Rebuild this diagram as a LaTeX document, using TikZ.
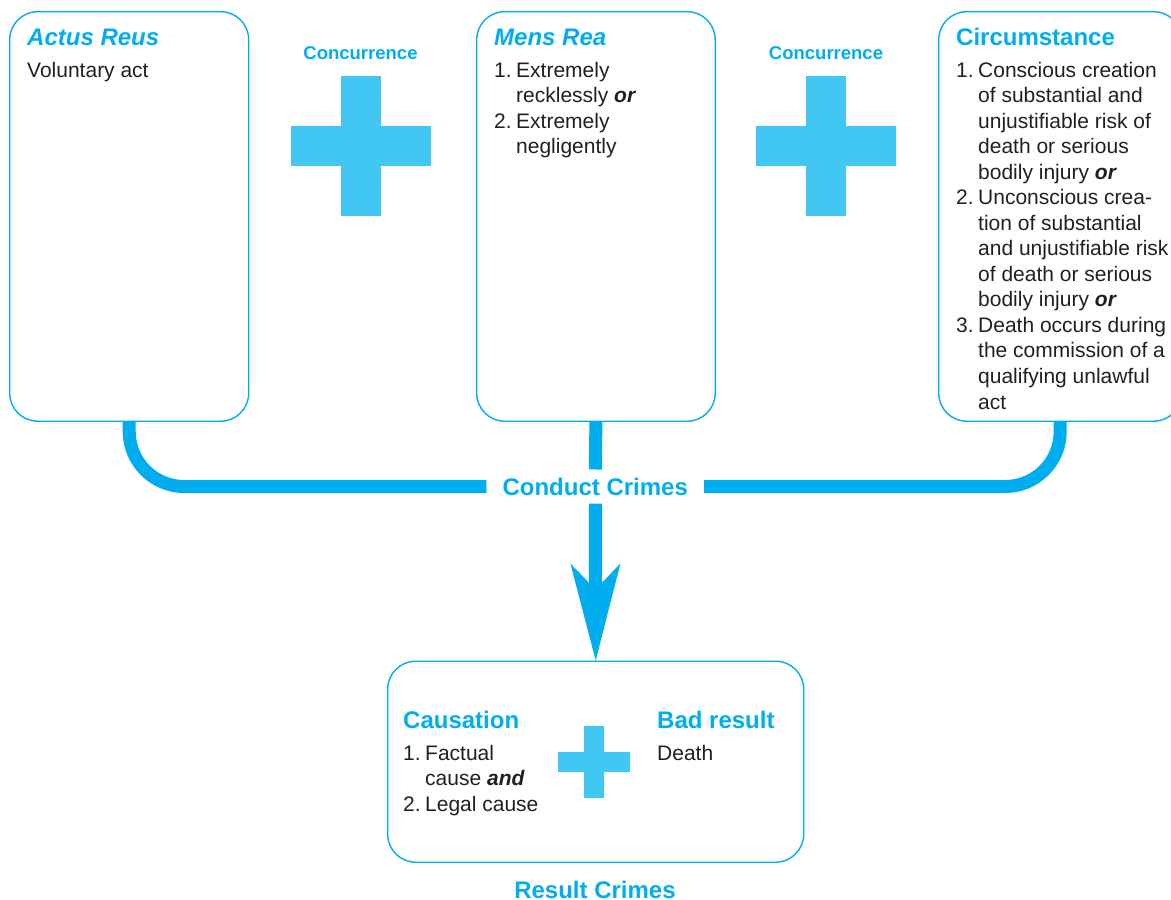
\documentclass[tikz,border=0pt]{standalone}
\usepackage{fontspec}
\setmainfont{Liberation Sans}
\usetikzlibrary{arrows.meta}

\definecolor{cyanline}{RGB}{0,174,239}
\definecolor{plusfill}{RGB}{66,199,242}
\definecolor{bodytext}{RGB}{35,31,32}

% numbered list helpers: hanging indent for wrapped lines
\newcommand\itemnum[1]{\makebox[22pt][l]{#1}}
\newcommand\indentline{\hspace*{22pt}}
\newcommand\bi[1]{\textbf{\textit{#1}}}

% body line pitch
\def\lineskipbody{25.54}

\tikzset{
  panel/.style={draw=cyanline, line width=1.4pt, rounded corners=28pt,
    anchor=north west, inner sep=0pt},
  heading/.style={anchor=base west, inner sep=0pt, text=cyanline,
    font=\fontsize{24}{28}\selectfont\bfseries},
  body/.style={anchor=base west, inner sep=0pt, text=bodytext, align=left,
    font=\fontsize{21}{25.54}\selectfont},
  caption/.style={anchor=base, inner sep=0pt, text=cyanline,
    font=\fontsize{24}{28}\selectfont\bfseries},
  joiner/.style={anchor=base, inner sep=0pt, text=cyanline,
    font=\fontsize{18.5}{22}\selectfont\bfseries},
  link/.style={draw=cyanline, line width=13pt},
  pics/plusmark/.style 2 args={code={
    \fill[plusfill] (-#1,-#2) rectangle (#1,#2);
    \fill[plusfill] (-#2,-#1) rectangle (#2,#1);
  }}
}

\begin{document}
\begin{tikzpicture}[x=1pt, y=-1pt]
  \useasboundingbox (0,0) rectangle (1171,900);
  \clip (0,0) rectangle (1171,900);

  % three element panels
  \node[panel, minimum width=239pt, minimum height=409.5pt] (ar) at (9,11) {};
  \node[panel, minimum width=238.5pt, minimum height=409.5pt] (mr) at (476,11) {};
  \node[panel, minimum width=243pt, minimum height=409.5pt] (ci) at (938,11) {};

  % actus reus
  \node[heading, font=\fontsize{24}{28}\selectfont\bfseries\itshape] (arT) at (27,45) {Actus Reus};
  \node[body] (arB) at (27,77) {Voluntary act};

  % mens rea (multi-line nodes sit on the baseline of their last line)
  \node[heading, font=\fontsize{24}{28}\selectfont\bfseries\itshape] (mrT) at (494,45) {Mens Rea};
  \node[body] (mrB) at (494,{77+3*\lineskipbody}) {\itemnum{1.}Extremely\\
    \indentline recklessly \bi{or}\\
    \itemnum{2.}Extremely\\
    \indentline negligently};

  % circumstance
  \node[heading] (ciT) at (956,45) {Circumstance};
  \node[body] (ciB) at (956,{77+13*\lineskipbody}) {\itemnum{1.}Conscious creation\\
    \indentline of substantial and\\
    \indentline unjustifiable risk of\\
    \indentline death or serious\\
    \indentline bodily injury \bi{or}\\
    \itemnum{2.}Unconscious crea-\\
    \indentline tion of substantial\\
    \indentline and unjustifiable risk\\
    \indentline of death or serious\\
    \indentline bodily injury \bi{or}\\
    \itemnum{3.}Death occurs during\\
    \indentline the commission of a\\
    \indentline qualifying unlawful\\
    \indentline act};

  % concurrence joiners
  \node[joiner] (cn1) at (360.5,59) {Concurrence};
  \node[joiner] (cn2) at (826,59) {Concurrence};
  \pic at (360.5,146) {plusmark={70}{20}};
  \pic at (826,146) {plusmark={70}{20}};

  % conduct crimes label and connectors
  \node[text=cyanline, font=\fontsize{24}{28}\selectfont\bfseries,
        inner xsep=16pt, inner ysep=8pt] (cc) at (595.25,486.5) {Conduct Crimes};
  \draw[link, rounded corners=55pt] (ar.south) |- (cc.west);
  \draw[link, rounded corners=55pt] (ci.south) |- (cc.east);
  \draw[link] (mr.south) -- (cc.north);

  % result crimes panel
  \node[panel, minimum width=416pt, minimum height=201pt] (rc) at (387,660.5) {};
  \draw[link, -{Stealth[length=97pt, width=50pt, inset=26pt, line width=0pt]}]
    (cc.south) -- (rc.north);

  \node[heading] (caT) at (403,728) {Causation};
  \node[body] (caB) at (403,{760+2*\lineskipbody}) {\itemnum{1.}Factual\\
    \indentline cause \bi{and}\\
    \itemnum{2.}Legal cause};
  \pic at (594,761.5) {plusmark={36}{10}};
  \node[heading] (brT) at (657,728) {Bad result};
  \node[body] (brB) at (657,760) {Death};

  \node[caption] (rcT) at (595,898.5) {Result Crimes};
\end{tikzpicture}
\end{document}
